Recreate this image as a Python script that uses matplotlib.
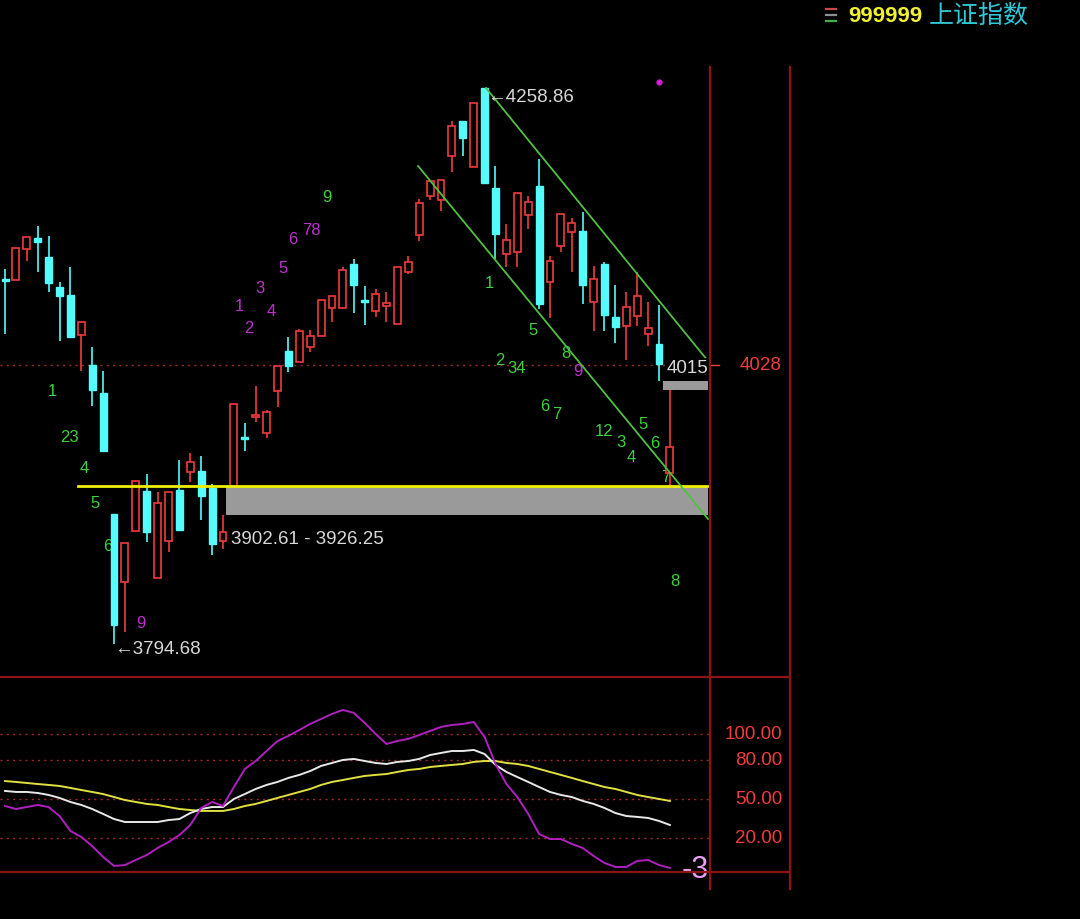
import matplotlib
matplotlib.use("Agg")
import matplotlib.pyplot as plt
import matplotlib.transforms as mtransforms
from matplotlib.patches import Rectangle
from matplotlib.lines import Line2D

plt.rcParams['font.family'] = ['Liberation Sans', 'Noto Sans CJK SC', 'DejaVu Sans']

# ---------------- data ----------------
opens = [4099.4, 4098.6, 4124.4, 4133.6, 4117.8, 4092.7, 4086.0, 4052.6, 4027.6, 4004.2,
         3903.2, 3846.4, 3889.0, 3922.4, 3849.8, 3880.6, 3923.2, 3938.3, 3939.1, 3924.9,
         3880.6, 3926.25, 3967.5, 3984.2, 3970.8, 4006.0, 4039.3, 4030.1, 4042.6, 4051.8,
         4075.2, 4075.2, 4111.9, 4081.9, 4072.7, 4076.9, 4061.8, 4105.2, 4136.1, 4168.7,
         4165.4, 4202.1, 4231.3, 4192.9, 4258.86, 4175.4, 4120.3, 4121.9, 4152.8, 4177.0,
         4096.9, 4126.9, 4138.6, 4139.5, 4080.2, 4111.9, 4067.7, 4060.2, 4068.5, 4053.5,
         4045.1, 3937.4]
highs = [4107.8, 4125.3, 4134.5, 4143.6, 4135.3, 4096.9, 4109.4, 4063.5, 4042.6, 4022.6,
         3903.2, 3879.0, 3930.8, 3936.6, 3921.6, 3921.6, 3948.3, 3954.1, 3951.6, 3928.2,
         3902.61, 3995.0, 3979.2, 4010.1, 3990.0, 4026.8, 4051.0, 4057.6, 4056.8, 4081.9,
         4085.2, 4109.4, 4116.1, 4093.5, 4091.0, 4088.5, 4109.4, 4118.6, 4166.2, 4181.2,
         4182.0, 4231.3, 4231.3, 4246.3, 4258.86, 4193.8, 4145.3, 4171.2, 4168.7, 4199.6,
         4118.6, 4153.7, 4150.3, 4155.3, 4110.3, 4113.6, 4094.4, 4088.5, 4105.2, 4080.2,
         4077.7, 4007.0]
lows = [4053.5, 4098.6, 4114.4, 4105.2, 4088.5, 4047.6, 4051.0, 4022.6, 3993.4, 3955.8,
        3794.68, 3804.7, 3889.0, 3879.8, 3849.8, 3871.5, 3889.8, 3929.9, 3898.2, 3869.0,
        3874.0, 3926.25, 3955.8, 3980.0, 3966.6, 3992.6, 4021.8, 4030.1, 4038.4, 4051.8,
        4063.5, 4075.2, 4071.0, 4061.0, 4067.7, 4063.5, 4061.8, 4103.6, 4131.1, 4165.4,
        4156.2, 4188.7, 4202.1, 4192.9, 4179.5, 4116.1, 4109.4, 4109.4, 4141.1, 4074.3,
        4066.8, 4121.9, 4105.2, 4078.5, 4056.0, 4056.0, 4046.0, 4031.8, 4060.2, 4043.5,
        4014.6, 3926.25]
closes = [4097.7, 4125.3, 4134.5, 4130.3, 4096.1, 4085.2, 4051.0, 4063.5, 4006.7, 3955.8,
          3810.5, 3879.0, 3930.8, 3888.2, 3912.4, 3921.6, 3889.8, 3946.6, 3918.2, 3878.2,
          3888.2, 3995.0, 3965.8, 3985.9, 3988.4, 4026.8, 4026.8, 4056.0, 4051.8, 4081.9,
          4085.2, 4106.9, 4094.4, 4080.2, 4086.9, 4079.4, 4109.4, 4113.6, 4162.9, 4181.2,
          4182.0, 4227.1, 4217.1, 4246.3, 4179.5, 4137.0, 4131.9, 4171.2, 4163.7, 4078.5,
          4114.4, 4153.7, 4146.1, 4094.4, 4099.4, 4069.3, 4059.3, 4076.0, 4085.2, 4058.5,
          4028.4, 3959.1]

# KDJ indicator
k_vals = [56.2, 55.4, 55.4, 54.6, 53.1, 50.8, 47.7, 45.4, 42.3, 38.5,
          34.6, 32.3, 32.3, 32.3, 32.3, 33.8, 34.6, 39.2, 42.3, 43.8,
          43.8, 50.0, 53.8, 57.7, 60.8, 63.1, 66.2, 68.5, 71.5, 75.4,
          77.7, 80.0, 80.8, 79.2, 77.7, 76.9, 78.5, 79.2, 80.8, 83.8,
          85.4, 86.9, 86.9, 87.7, 84.6, 76.2, 70.8, 66.9, 63.1, 59.2,
          55.4, 53.1, 51.5, 48.5, 46.2, 43.1, 39.2, 36.9, 36.2, 35.4,
          33.1, 30.0]
d_vals = [63.8, 63.1, 62.3, 61.5, 60.8, 60.0, 58.5, 56.9, 55.4, 53.8,
          51.5, 49.2, 47.7, 46.2, 45.4, 43.8, 42.3, 41.5, 40.8, 40.8,
          40.8, 42.3, 44.6, 46.2, 48.5, 50.8, 53.1, 55.4, 57.7, 60.8,
          63.1, 64.6, 66.2, 67.7, 68.5, 69.2, 70.8, 72.3, 73.1, 74.6,
          75.4, 76.2, 76.9, 78.5, 79.2, 79.2, 77.7, 76.9, 75.4, 73.1,
          70.8, 68.5, 66.2, 63.8, 61.5, 59.2, 57.7, 55.4, 53.1, 51.5,
          50.0, 48.5]
j_vals = [44.6, 42.3, 43.8, 45.4, 43.8, 36.9, 25.4, 20.8, 13.8, 5.4,
          -1.5, -0.8, 3.1, 6.9, 12.3, 16.9, 22.3, 30.0, 43.0, 47.7,
          44.6, 59.2, 73.0, 79.2, 86.9, 94.6, 98.5, 103.0, 107.7, 111.5,
          115.4, 118.5, 116.2, 108.5, 100.0, 92.3, 94.6, 96.2, 99.2, 102.3,
          105.4, 106.9, 107.7, 109.2, 97.7, 76.9, 61.5, 51.5, 38.5, 23.1,
          19.2, 19.2, 15.4, 12.3, 6.2, 0.8, -2.3, -2.3, 2.3, 3.1,
          -0.8, -3.0]
kdj_levels = [100, 80, 50, 20]
kdj_labels = ["100.00", "80.00", "50.00", "20.00"]

# TD sequential counts: (text, bar position, price, colour key)
td_text = ["1", "23", "4", "5", "6", "9",
           "1", "2", "3", "4", "5", "6", "78", "9",
           "1", "2", "34", "5", "6", "7", "8", "9",
           "12", "3", "4", "5", "6", "7", "8"]
td_pos = [4.3, 5.9, 7.3, 8.3, 9.4, 12.5,
          21.5, 22.4, 23.4, 24.4, 25.5, 26.4, 28.1, 29.5,
          44.4, 45.4, 46.9, 48.4, 49.5, 50.6, 51.5, 52.6,
          55.0, 56.5, 57.5, 58.5, 59.6, 60.6, 61.5]
td_price = [4006.7, 3968.3, 3942.4, 3913.2, 3876.5, 3813.0,
            4076.9, 4058.5, 4091.9, 4072.7, 4108.6, 4133.6, 4141.1, 4167.9,
            4096.1, 4032.6, 4025.9, 4057.6, 3993.4, 3986.7, 4038.4, 4022.6,
            3973.3, 3964.1, 3950.9, 3978.6, 3962.5, 3934.2, 3847.6]
td_kind = ["g", "g", "g", "g", "g", "m",
           "m", "m", "m", "m", "m", "m", "m", "g",
           "g", "g", "g", "g", "g", "g", "g", "m",
           "g", "g", "g", "g", "g", "g", "g"]

gap_low, gap_high = 3902.61, 3926.25
gap2_low, gap2_high = 4007.0, 4014.6
ref_price = 4028
peak_label = "4258.86"
trough_label = "3794.68"
last_low_label = "4015"
channel_upper = ([44.13, 64.5], [4258.86, 4030.9])
channel_lower = ([37.9, 64.5], [4193.7, 3899.0])
magenta_dot = (60.0, 4263.9)

# ---------------- figure ----------------
W, H = 1080, 920
fig = plt.figure(figsize=(W / 100, H / 100), dpi=100, facecolor='black')

def frac_rect(x0, y0, x1, y1):
    return [x0 / W, 1 - y1 / H, (x1 - x0) / W, (y1 - y0) / H]

ax = fig.add_axes(frac_rect(0, 68, 710, 678))
ax2 = fig.add_axes(frac_rect(0, 678, 710, 873))
for a in (ax, ax2):
    a.set_facecolor('black')
    for s in a.spines.values():
        s.set_visible(False)
    a.set_xticks([])
    a.set_yticks([])

xmin, xmax = -0.46, 64.68
ax.set_xlim(xmin, xmax)
ax.set_ylim(3767.1, 4276.4)
ax2.set_xlim(xmin, xmax)
ax2.set_ylim(-6.15, 143.8)

RED = '#f03c3c'
CYAN = '#54fcfc'
GREEN = '#3cd23c'
MAG = '#c030d0'
BORDER = '#8c1414'
GRID = '#a02828'
LABEL = '#d8d8d8'

# reference dotted line
ax.axhline(ref_price, color=GRID, lw=1.0, ls=(0, (1.5, 3)), zorder=1)

# gap zones
ax.add_patch(Rectangle((20.3, gap_low), 64.5 - 20.3, gap_high - gap_low,
                       facecolor='#9a9a9a', edgecolor='none', zorder=1))
ax.add_patch(Rectangle((60.4, gap2_low), 64.5 - 60.4, gap2_high - gap2_low,
                       facecolor='#9a9a9a', edgecolor='none', zorder=1))

# TD counts (under candles)
for t, xp, yp, kd in zip(td_text, td_pos, td_price, td_kind):
    ax.text(xp, yp, t, color=GREEN if kd == "g" else MAG, fontsize=12,
            ha='center', va='center', zorder=1.5)

# candles
bw = 0.64
for i, (o, h, l, c) in enumerate(zip(opens, highs, lows, closes)):
    up = c >= o
    col = RED if up else CYAN
    ax.vlines(i, l, h, color=col, lw=1.2, zorder=2)
    bot, top = min(o, c), max(o, c)
    hgt = max(top - bot, 0.8)
    if up:
        ax.add_patch(Rectangle((i - bw / 2, bot), bw, hgt, facecolor='black',
                               edgecolor=col, lw=1.2, zorder=3))
    else:
        ax.add_patch(Rectangle((i - bw / 2, bot), bw, hgt, facecolor=col,
                               edgecolor=col, lw=1.0, zorder=3))

# support line
ax.plot([6.7, 64.5], [gap_high, gap_high], color='#f0f000', lw=2.0, zorder=4)

# channel
ax.plot(*channel_upper, color='#50c040', lw=1.3, zorder=4)
ax.plot(*channel_lower, color='#50c040', lw=1.3, zorder=4)

ax.plot([magenta_dot[0]], [magenta_dot[1]], 'o', color='#d020d0', ms=3.5, zorder=5)

# price labels
ax.text(44.2, 4252.0, "\u2190" + peak_label, color=LABEL, fontsize=13.5,
        ha='left', va='center', zorder=6)
ax.text(10.05, 3790.5, "\u2190" + trough_label, color=LABEL, fontsize=13.5,
        ha='left', va='center', zorder=6)
ax.text(20.75, 3883.0, f"{gap_low:.2f} - {gap_high:.2f}", color=LABEL, fontsize=13.5,
        ha='left', va='center', zorder=6)
ax.text(60.7, 4025.5, last_low_label, color=LABEL, fontsize=13.5,
        ha='left', va='center', zorder=6,
        bbox=dict(facecolor='black', edgecolor='none', pad=0.5))

# right scale label for main panel
bt = mtransforms.blended_transform_factory(fig.transFigure, ax.transData)
ax.text(782 / W, ref_price, str(ref_price), color=RED, fontsize=13.5, ha='right',
        va='center', transform=bt, clip_on=False)
ax.add_line(Line2D([710 / W, 719 / W], [ref_price, ref_price], color=RED, lw=1.0,
                   transform=bt, clip_on=False))

# KDJ panel
xs = list(range(len(k_vals)))
for lv in kdj_levels:
    ax2.axhline(lv, color=GRID, lw=1.0, ls=(0, (1.5, 3)), zorder=1)
ax2.plot(xs, d_vals, color='#e0e040', lw=1.4, zorder=3)
ax2.plot(xs, k_vals, color='#e8e8e8', lw=1.4, zorder=3)
ax2.plot(xs, j_vals, color='#b020c0', lw=1.4, zorder=3)
bt2 = mtransforms.blended_transform_factory(fig.transFigure, ax2.transData)
for lv, lb in zip(kdj_levels, kdj_labels):
    ax2.text(782 / W, lv, lb, color=RED, fontsize=13.5, ha='right', va='center',
             transform=bt2, clip_on=False)
ax2.text(63.3, j_vals[-1] - 1.0, f"{j_vals[-1]:.0f}", color='#eaa0fa', fontsize=22,
         ha='center', va='center', clip_on=False, zorder=6)

# frame lines (figure pixels)
def pline(x0, y0, x1, y1, col=BORDER, lw=1.6):
    fig.add_artist(Line2D([x0 / W, x1 / W], [1 - y0 / H, 1 - y1 / H],
                          color=col, lw=lw, transform=fig.transFigure))

pline(710, 68, 710, 890)
pline(790, 68, 790, 890)
pline(0, 678, 790, 678)
pline(0, 873, 790, 873)

# header
pline(826, 10, 836, 10, col='#c84848', lw=1.6)
pline(826, 16, 836, 16, col='#909090', lw=1.6)
pline(826, 22, 836, 22, col='#40b040', lw=1.6)
fig.text(848 / W, 1 - 17 / H, "999999", color='#f0f030', fontsize=16,
         fontweight='bold', ha='left', va='center')
fig.text(929 / W, 1 - 16 / H, "上证指数", color='#30c8d8', fontsize=18,
         family=['Noto Sans CJK SC', 'DejaVu Sans'], ha='left', va='center')

fig.savefig("out.png", dpi=100, facecolor='black')
